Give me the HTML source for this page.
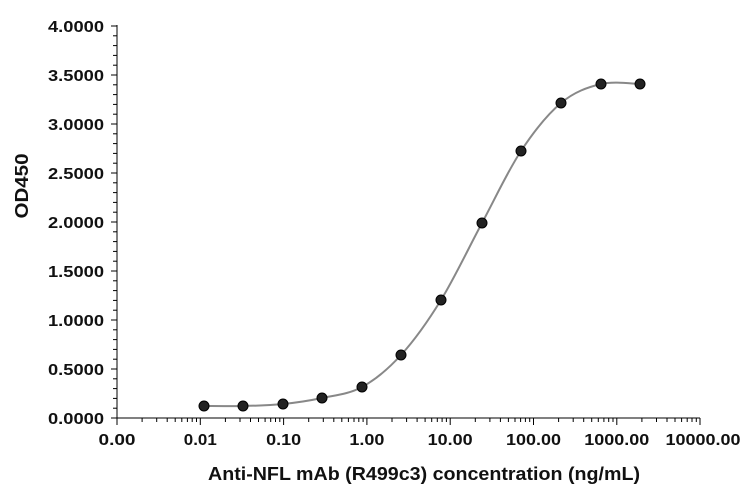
<!DOCTYPE html>
<html><head><meta charset="utf-8"><style>
html,body{margin:0;padding:0;background:#fff;}
svg{display:block;font-family:"Liberation Sans",sans-serif;}
</style></head><body>
<svg width="747" height="490" viewBox="0 0 747 490" xmlns="http://www.w3.org/2000/svg">
<defs>
<g id="dec" stroke="#000" stroke-width="1">
<line x1="0" y1="418" x2="0" y2="425"/>
<line x1="25.1" y1="418" x2="25.1" y2="422"/>
<line x1="39.7" y1="418" x2="39.7" y2="422"/>
<line x1="50.2" y1="418" x2="50.2" y2="422"/>
<line x1="58.2" y1="418" x2="58.2" y2="422"/>
<line x1="64.8" y1="418" x2="64.8" y2="422"/>
<line x1="70.4" y1="418" x2="70.4" y2="422"/>
<line x1="75.2" y1="418" x2="75.2" y2="422"/>
<line x1="79.5" y1="418" x2="79.5" y2="422"/>
</g>
<g id="yd" stroke="#000" stroke-width="1">
<line x1="111" y1="0" x2="117" y2="0"/>
<line x1="113" y1="-9.8" x2="117" y2="-9.8"/>
<line x1="113" y1="-19.6" x2="117" y2="-19.6"/>
<line x1="113" y1="-29.4" x2="117" y2="-29.4"/>
<line x1="113" y1="-39.2" x2="117" y2="-39.2"/>
</g>
</defs>
<line x1="117" y1="25" x2="117" y2="418" stroke="#000"/>
<line x1="117" y1="418" x2="700" y2="418" stroke="#000"/>
<use href="#dec" x="117"/><use href="#dec" x="200.3"/><use href="#dec" x="283.6"/><use href="#dec" x="366.9"/><use href="#dec" x="450.2"/><use href="#dec" x="533.5"/><use href="#dec" x="616.8"/>
<line x1="700" y1="418" x2="700" y2="425" stroke="#000"/>
<use href="#yd" y="418"/><use href="#yd" y="369"/><use href="#yd" y="320"/><use href="#yd" y="271"/><use href="#yd" y="222"/><use href="#yd" y="173"/><use href="#yd" y="124"/><use href="#yd" y="75"/>
<line x1="111" y1="26" x2="117" y2="26" stroke="#000"/>
<g font-size="16" font-weight="bold" fill="#111" text-anchor="start">
<text x="48" y="424" textLength="56" lengthAdjust="spacingAndGlyphs">0.0000</text>
<text x="48" y="375" textLength="56" lengthAdjust="spacingAndGlyphs">0.5000</text>
<text x="48" y="326" textLength="56" lengthAdjust="spacingAndGlyphs">1.0000</text>
<text x="48" y="277" textLength="56" lengthAdjust="spacingAndGlyphs">1.5000</text>
<text x="48" y="228" textLength="56" lengthAdjust="spacingAndGlyphs">2.0000</text>
<text x="48" y="179" textLength="56" lengthAdjust="spacingAndGlyphs">2.5000</text>
<text x="48" y="130" textLength="56" lengthAdjust="spacingAndGlyphs">3.0000</text>
<text x="48" y="81" textLength="56" lengthAdjust="spacingAndGlyphs">3.5000</text>
<text x="48" y="32" textLength="56" lengthAdjust="spacingAndGlyphs">4.0000</text>
</g>
<g font-size="16" font-weight="bold" fill="#111" text-anchor="middle">
<text x="117" y="445" textLength="37" lengthAdjust="spacingAndGlyphs">0.00</text>
<text x="200.3" y="445" textLength="33" lengthAdjust="spacingAndGlyphs">0.01</text>
<text x="283.6" y="445" textLength="35" lengthAdjust="spacingAndGlyphs">0.10</text>
<text x="366.9" y="445" textLength="35" lengthAdjust="spacingAndGlyphs">1.00</text>
<text x="450.2" y="445" textLength="45" lengthAdjust="spacingAndGlyphs">10.00</text>
<text x="533.5" y="445" textLength="55" lengthAdjust="spacingAndGlyphs">100.00</text>
<text x="616.8" y="445" textLength="65" lengthAdjust="spacingAndGlyphs">1000.00</text>
<text x="703" y="445" textLength="75" lengthAdjust="spacingAndGlyphs">10000.00</text>
</g>
<text x="208" y="480" font-size="18" font-weight="bold" fill="#111" textLength="432" lengthAdjust="spacingAndGlyphs">Anti-NFL mAb (R499c3) concentration (ng/mL)</text>
<text transform="translate(28,186) rotate(-90)" font-size="18" font-weight="bold" fill="#111" text-anchor="middle" textLength="65" lengthAdjust="spacingAndGlyphs">OD450</text>
<path fill="none" stroke="#888" stroke-width="2" d="M204,406 C210.5,406 229.8,406.3 243,406 C256.2,405.7 269.8,405.3 283,404 C296.2,402.7 308.8,400.8 322,398 C335.2,395.2 348.8,394.2 362,387 C375.2,379.8 387.8,369.5 401,355 C414.2,340.5 427.5,322 441,300 C454.5,278 468.7,247.8 482,223 C495.3,198.2 507.8,171 521,151 C534.2,131 547.7,114.2 561,103 C574.3,91.8 587.8,87.2 601,84 C614.2,80.8 633.5,84 640,84"/>
<g fill="#222" stroke="#000" stroke-width="1">
<circle cx="204" cy="406" r="5"/><circle cx="243" cy="406" r="5"/><circle cx="283" cy="404" r="5"/><circle cx="322" cy="398" r="5"/><circle cx="362" cy="387" r="5"/><circle cx="401" cy="355" r="5"/><circle cx="441" cy="300" r="5"/><circle cx="482" cy="223" r="5"/><circle cx="521" cy="151" r="5"/><circle cx="561" cy="103" r="5"/><circle cx="601" cy="84" r="5"/><circle cx="640" cy="84" r="5"/>
</g>
</svg>
</body></html>
